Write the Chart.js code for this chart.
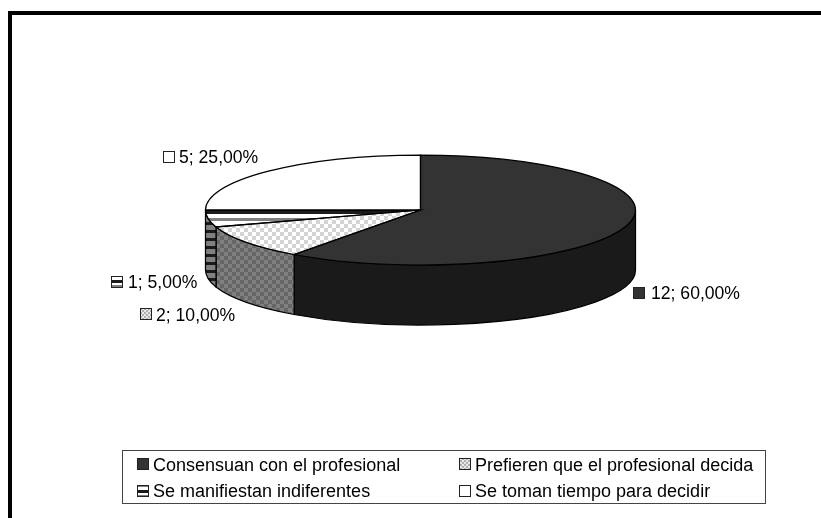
<!DOCTYPE html>
<html>
<head>
<meta charset="utf-8">
<style>
  html, body { margin: 0; background: #fff; }
  canvas { display: block; }
</style>
<script src="https://cdn.jsdelivr.net/npm/chart.js@4"></script>
</head>
<body>
<canvas id="pieChart" width="821" height="518"></canvas>
<script>
const categories = [
  'Consensuan con el profesional',
  'Prefieren que el profesional decida',
  'Se manifiestan indiferentes',
  'Se toman tiempo para decidir'
];
const values = [12, 2, 1, 5];

const LABEL_FONT = '17.6px "Liberation Sans", Arial, sans-serif';
const LEGEND_FONT = '18px "Liberation Sans", Arial, sans-serif';
const CENTER_Y = 210;   // where the flattened pie sits on the page
const SQUASH = 55 / 215;
const DEPTH = 60;
const OUTLINE = 1.25;

function checker(a, b, size) {
  const c = document.createElement('canvas');
  c.width = c.height = size * 2;
  const g = c.getContext('2d');
  g.fillStyle = a;
  g.fillRect(0, 0, size * 2, size * 2);
  g.fillStyle = b;
  g.fillRect(0, 0, size, size);
  g.fillRect(size, size, size, size);
  return g.createPattern(c, 'repeat');
}

// bands: [colour, height] from top to bottom
function stripes(bands) {
  const c = document.createElement('canvas');
  c.width = 4;
  c.height = bands.reduce((sum, b) => sum + b[1], 0);
  const g = c.getContext('2d');
  let y = 0;
  bands.forEach(b => {
    g.fillStyle = b[0];
    g.fillRect(0, y, 4, b[1]);
    y += b[1];
  });
  return g.createPattern(c, 'repeat');
}

const topFills = [
  '#333333',
  checker('#ffffff', '#d4d4d4', 4),
  stripes([['#ffffff', 2], ['#1a1a1a', 4], ['#ffffff', 4], ['#808080', 3], ['#ffffff', 3]]),
  '#ffffff'
];
const wallFills = [
  '#1a1a1a',
  checker('#808080', '#666666', 4),
  stripes([['#1a1a1a', 1], ['#808080', 5], ['#1a1a1a', 2]]),
  '#808080'
];
// swatch fills stay in page space, the pie ones get flattened
const swatchFills = [
  '#333333',
  checker('#e8e8e8', '#b0b0b0', 2),
  stripes([['#1a1a1a', 3], ['#ffffff', 2], ['#808080', 2], ['#ffffff', 3]]),
  '#ffffff'
];

function pieText(i) {
  const pct = (values[i] / values.reduce((a, b) => a + b, 0) * 100).toFixed(2).replace('.', ',');
  return `${values[i]}; ${pct}%`;
}

function swatch(ctx, i, x, y) {
  ctx.fillStyle = swatchFills[i];
  ctx.fillRect(x, y, 11, 11);
  ctx.strokeStyle = '#222';
  ctx.lineWidth = 1;
  ctx.strokeRect(x + 0.5, y + 0.5, 11, 11);
}

// Flattens the pie and puts the side wall under it.
const pie3d = {
  id: 'pie3d',
  beforeDatasetsDraw(chart) {
    const ctx = chart.ctx;
    const arcs = chart.getDatasetMeta(0).data;
    const y0 = arcs[0].y;
    const flat = new DOMMatrix().translate(0, CENTER_Y).scale(1, SQUASH).translate(0, -y0);
    topFills.forEach(f => {
      if (f instanceof CanvasPattern) f.setTransform(flat.inverse());
    });

    ctx.save();
    arcs.forEach((arc, i) => {
      const from = Math.max(arc.startAngle, 0);
      const to = Math.min(arc.endAngle, Math.PI);
      if (from >= to) return;
      const rx = arc.outerRadius;
      const ry = rx * SQUASH;
      ctx.beginPath();
      ctx.ellipse(arc.x, CENTER_Y, rx, ry, 0, from, to);
      ctx.ellipse(arc.x, CENTER_Y + DEPTH, rx, ry, 0, to, from, true);
      ctx.closePath();
      ctx.fillStyle = wallFills[i];
      ctx.fill();
      ctx.strokeStyle = '#000';
      ctx.lineWidth = OUTLINE;
      ctx.stroke();
    });
    ctx.restore();

    ctx.save();
    ctx.transform(flat.a, flat.b, flat.c, flat.d, flat.e, flat.f);
  },
  afterDatasetsDraw(chart) {
    const ctx = chart.ctx;
    ctx.restore();

    chart.getDatasetMeta(0).data.forEach(arc => {
      const rx = arc.outerRadius;
      ctx.beginPath();
      ctx.moveTo(arc.x, CENTER_Y);
      ctx.ellipse(arc.x, CENTER_Y, rx, rx * SQUASH, 0, arc.startAngle, arc.endAngle);
      ctx.closePath();
      ctx.strokeStyle = '#000';
      ctx.lineWidth = OUTLINE;
      ctx.stroke();
    });
  }
};

// Frame, data labels and the two column legend.
const decorations = {
  id: 'decorations',
  afterDraw(chart) {
    const ctx = chart.ctx;
    ctx.save();

    ctx.fillStyle = '#000';
    ctx.fillRect(8, 11, 813, 4);
    ctx.fillRect(8, 11, 4, 507);

    ctx.textBaseline = 'alphabetic';
    ctx.textAlign = 'left';

    ctx.font = LABEL_FONT;
    const labelSpots = [[633, 287, 651, 299], [140, 308, 156, 321], [111, 276, 128, 288], [163, 151, 179, 163]];
    labelSpots.forEach((s, i) => {
      swatch(ctx, i, s[0], s[1]);
      ctx.fillStyle = '#000';
      ctx.fillText(pieText(i), s[2], s[3]);
    });

    ctx.strokeStyle = '#444';
    ctx.lineWidth = 1;
    ctx.strokeRect(122.5, 450.5, 643, 53);

    ctx.font = LEGEND_FONT;
    const legendSpots = [[137, 458, 153, 471], [459, 458, 475, 471], [137, 485, 153, 497], [459, 485, 475, 497]];
    legendSpots.forEach((s, i) => {
      swatch(ctx, i, s[0], s[1]);
      ctx.fillStyle = '#000';
      ctx.fillText(categories[i], s[2], s[3]);
    });

    ctx.restore();
  }
};

const pieChart = new Chart(document.querySelector('#pieChart').getContext('2d'), {
  type: 'pie',
  data: {
    labels: categories,
    datasets: [{
      data: values,
      backgroundColor: topFills,
      borderWidth: 0
    }]
  },
  options: {
    responsive: false,
    animation: false,
    layout: {
      padding: { left: 205.5, right: 185.5, top: 0, bottom: 0 }
    },
    plugins: {
      legend: { display: false },
      tooltip: { enabled: false }
    }
  },
  plugins: [pie3d, decorations]
});
</script>
</body>
</html>
